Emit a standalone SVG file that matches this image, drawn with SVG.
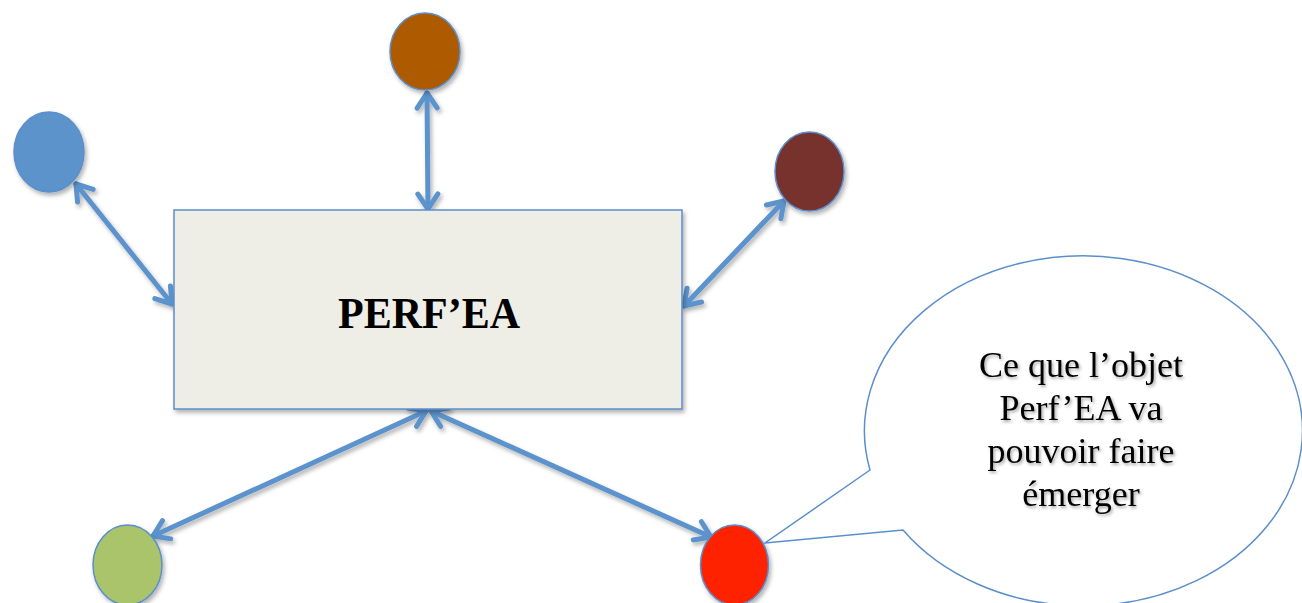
<svg xmlns="http://www.w3.org/2000/svg" width="1302" height="603" viewBox="0 0 1302 603">
<style>
.conn{stroke:#5B93CC;stroke-width:5;fill:none;stroke-linecap:round;marker-start:url(#ah);marker-end:url(#ah);filter:url(#sh)}
.node{stroke:#5B8FCB;stroke-width:1.5;filter:url(#sh)}
.bub{font-family:"Liberation Serif","DejaVu Serif",serif;font-size:36px;fill:#000;text-anchor:middle;filter:url(#tsh)}
.title{font-family:"Liberation Serif","DejaVu Serif",serif;font-size:44px;font-weight:bold;fill:#000;text-anchor:middle}
</style>
<defs>
<filter id="sh" filterUnits="userSpaceOnUse" x="0" y="0" width="1302" height="603">
<feDropShadow dx="2" dy="3" stdDeviation="2" flood-color="#000" flood-opacity="0.3"/>
</filter>
<filter id="tsh" filterUnits="userSpaceOnUse" x="0" y="0" width="1302" height="603">
<feDropShadow dx="1.5" dy="2" stdDeviation="1.5" flood-color="#000" flood-opacity="0.35"/>
</filter>
<marker id="ah" markerUnits="userSpaceOnUse" markerWidth="30" markerHeight="30" viewBox="-20 -15 25 30" refX="0" refY="0" orient="auto-start-reverse">
<path d="M-15,-10 L0,0 L-15,10" fill="none" stroke="#5B93CC" stroke-width="5" stroke-linecap="round" stroke-linejoin="round"/>
</marker>
</defs>
<rect width="1302" height="603" fill="#fff"/>
<g id="connectors">
<line class="conn" x1="76" y1="184" x2="172" y2="304"/>
<line class="conn" x1="427" y1="93" x2="428" y2="209"/>
<line class="conn" x1="684" y1="306" x2="784" y2="201"/>
<line class="conn" x1="426" y1="411" x2="153" y2="536"/>
<line class="conn" x1="431" y1="411" x2="711" y2="537"/>
</g>
<g id="perfea">
<rect class="node" x="174" y="210" width="508" height="199" fill="#EEEEE7"/>
<text class="title" x="429" y="328" textLength="182" lengthAdjust="spacingAndGlyphs">PERF’EA</text>
</g>
<g id="node-blue"><ellipse class="node" cx="49" cy="152" rx="35" ry="40" fill="#5B93CB"/></g>
<g id="node-brown"><ellipse class="node" cx="425" cy="51.5" rx="35" ry="38.5" fill="#AE5A00"/></g>
<g id="node-darkred"><ellipse class="node" cx="809.5" cy="171.5" rx="34.5" ry="39.5" fill="#77312E"/></g>
<g id="node-green"><ellipse class="node" cx="127.5" cy="565" rx="34.5" ry="40" fill="#A9C46A"/></g>
<g id="node-red"><ellipse class="node" cx="734.5" cy="565" rx="34" ry="40" fill="#FF2200"/></g>
<g id="bubble">
<path d="M870,470 L765,543 L903,530 A219,175 0 1 0 870,470 Z" fill="#fff" stroke="#5B8FCB" stroke-width="1.5"/>
<text class="bub" x="1081" y="377">Ce que l’objet</text>
<text class="bub" x="1081" y="420">Perf’EA va</text>
<text class="bub" x="1081" y="463">pouvoir faire</text>
<text class="bub" x="1081" y="506">émerger</text>
</g>
</svg>
